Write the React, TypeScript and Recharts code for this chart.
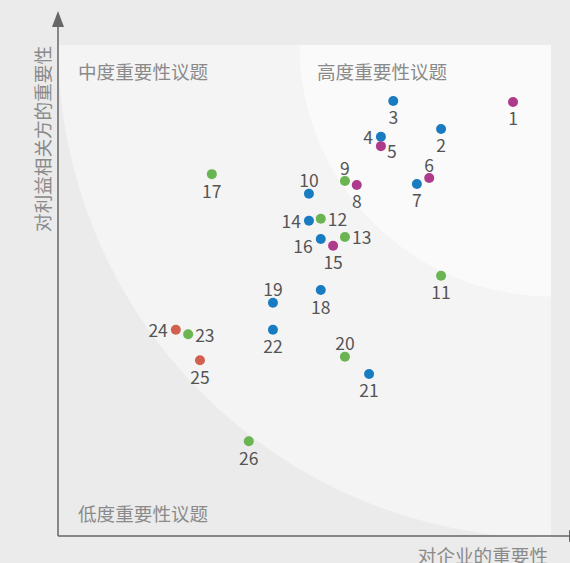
import { ScatterChart, Scatter, XAxis, YAxis, ReferenceArea, LabelList } from 'recharts'

// materiality matrix: issue id, importance to company (x), importance to stakeholders (y)
const issueIds = [1, 2, 3, 4, 5, 6, 7, 8, 9, 10, 11, 12, 13, 14, 15, 16, 17, 18, 19, 20, 21, 22, 23, 24, 25, 26]
const companyImportance = [9.23, 7.77, 6.8, 6.55, 6.55, 7.53, 7.28, 6.06, 5.82, 5.09, 7.77, 5.33, 5.82, 5.09, 5.58, 5.33, 3.12, 5.33, 4.36, 5.82, 6.31, 4.36, 2.64, 2.39, 2.88, 3.87]
const stakeholderImportance = [8.84, 8.29, 8.86, 8.13, 7.94, 7.29, 7.17, 7.15, 7.23, 6.97, 5.3, 6.46, 6.09, 6.42, 5.91, 6.05, 7.37, 5.01, 4.75, 3.65, 3.3, 4.2, 4.11, 4.2, 3.58, 1.93]
const issueGroup = ['m', 'b', 'b', 'b', 'm', 'm', 'b', 'm', 'g', 'b', 'g', 'g', 'g', 'b', 'm', 'b', 'g', 'b', 'b', 'g', 'b', 'b', 'g', 'r', 'r', 'g']
const zoneTitles = ['中度重要性议题', '高度重要性议题', '低度重要性议题']

const groups = [
    { key: 'b', color: '#1a7cc0' },
    { key: 'm', color: '#ad3a8b' },
    { key: 'g', color: '#6ab451' },
    { key: 'r', color: '#d2604f' }
]

// where each number sits around its dot
const labelSide: Record<number, string> = {
    4: 'left', 14: 'left', 24: 'left', 16: 'leftDown',
    12: 'right', 13: 'right', 23: 'right', 5: 'rightDown',
    6: 'top', 9: 'top', 10: 'top', 19: 'top', 20: 'top'
}

const rows = issueIds.map((id, i) => ({
    id,
    x: companyImportance[i],
    y: stakeholderImportance[i],
    group: issueGroup[i]
}))

const FONT = '"Noto Sans CJK SC", "Noto Sans", sans-serif'
const TITLE = '#8a8a8a'
const TITLE_SIZE = 18.6

function Backdrop(props: any) {
    const { x, y, width, height } = props
    const right = x + width
    const bottom = y + height
    const rBig = width
    const rSmall = width * 0.51
    return (
        <g>
            <rect x={x} y={y} width={width} height={height} fill="#ebebeb" />
            <path d={`M${right - rBig},${y} A${rBig},${rBig} 0 0 0 ${right},${y + rBig} L${right},${y} Z`} fill="#f4f4f4" />
            <path d={`M${right - rSmall},${y} A${rSmall},${rSmall} 0 0 0 ${right},${y + rSmall} L${right},${y} Z`} fill="#fafafa" />
            {/* axes with arrows */}
            <line x1={x} y1={bottom} x2={x} y2={y - 20} stroke="#666" strokeWidth={1.5} />
            <path d={`M${x - 6},${y - 18} L${x},${y - 34} L${x + 6},${y - 18} Z`} fill="#666" />
            <line x1={x} y1={bottom} x2={right + 30} y2={bottom} stroke="#666" strokeWidth={1.5} />
            <path d={`M${right + 18},${bottom - 6} L${right + 34},${bottom} L${right + 18},${bottom + 6} Z`} fill="#666" />
            <text x={x + 20} y={y + 25} fontSize={TITLE_SIZE} fill={TITLE} fontFamily={FONT} dominantBaseline="central">{zoneTitles[0]}</text>
            <text x={x + 259} y={y + 25} fontSize={TITLE_SIZE} fill={TITLE} fontFamily={FONT} dominantBaseline="central">{zoneTitles[1]}</text>
            <text x={x + 20} y={bottom - 24} fontSize={TITLE_SIZE} fill={TITLE} fontFamily={FONT} dominantBaseline="central">{zoneTitles[2]}</text>
        </g>
    )
}

function NumberLabel(props: any) {
    const { x, y, width, height, value } = props
    const cx = x + (width || 0) / 2
    const cy = y + (height || 0) / 2
    const side = labelSide[value] || 'bottom'
    let dx = 0
    let dy = 16
    let anchor = 'middle'
    if (side === 'top') dy = -14
    if (side === 'left') { dx = -8; dy = 0; anchor = 'end' }
    if (side === 'right') { dx = 7; dy = 0; anchor = 'start' }
    if (side === 'leftDown') { dx = -8; dy = 7; anchor = 'end' }
    if (side === 'rightDown') { dx = 6; dy = 4; anchor = 'start' }
    return (
        <text x={cx + dx} y={cy + dy} textAnchor={anchor} dominantBaseline="central" fontSize={17.5} fill="#555" fontFamily={FONT}>
            {value}
        </text>
    )
}

export default function App() {
    return (
        <div style={{ position: 'absolute', left: 0, top: 0, width: 570, height: 563, background: '#ebebeb', fontFamily: FONT }}>
            <ScatterChart width={570} height={563} margin={{ top: 45, right: 19, bottom: 27, left: 58 }}>
                <XAxis type="number" dataKey="x" domain={[0, 10]} hide />
                <YAxis type="number" dataKey="y" domain={[0, 10]} hide />
                <ReferenceArea x1={0} x2={10} y1={0} y2={10} shape={<Backdrop />} ifOverflow="visible" />
                {groups.map(g => (
                    <Scatter
                        key={g.key}
                        data={rows.filter(r => r.group === g.key)}
                        fill={g.color}
                        isAnimationActive={false}
                        shape={(p: any) => <circle cx={p.cx} cy={p.cy} r={5} fill={g.color} />}
                    >
                        <LabelList dataKey="id" content={<NumberLabel />} />
                    </Scatter>
                ))}
                <text x={548} y={554} fontSize={TITLE_SIZE} fill={TITLE} fontFamily={FONT} textAnchor="end" dominantBaseline="central">对企业的重要性</text>
                <text x={41} y={139} fontSize={TITLE_SIZE} fill={TITLE} fontFamily={FONT} textAnchor="middle" dominantBaseline="central" transform="rotate(-90 41 139)">对利益相关方的重要性</text>
            </ScatterChart>
        </div>
    )
}
